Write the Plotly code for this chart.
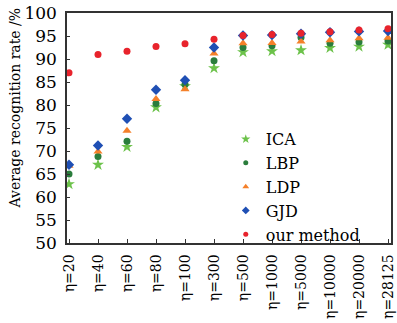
import plotly.graph_objects as go

categories = ["η=20", "η=40", "η=60", "η=80", "η=100", "η=300", "η=500",
              "η=1000", "η=5000", "η=10000", "η=20000", "η=28125"]

ica = [62.8, 67.0, 70.9, 79.5, 84.1, 88.0, 91.5, 91.7, 91.9, 92.4, 92.7, 93.1]
lbp = [65.0, 68.8, 72.1, 80.3, 84.5, 89.6, 92.5, 92.9, 94.7, 93.4, 93.7, 93.9]
ldp = [66.8, 69.9, 74.4, 81.3, 83.4, 91.2, 93.4, 93.5, 93.8, 94.1, 94.5, 94.6]
gjd = [67.0, 71.2, 77.0, 83.3, 85.4, 92.5, 95.1, 95.2, 95.5, 95.8, 96.0, 96.1]
ours = [87.0, 91.0, 91.7, 92.7, 93.3, 94.3, 95.1, 95.3, 95.6, 95.9, 96.3, 96.6]

series = [
    ("ICA", ica, "star", "#6cc24a", 9),
    ("LBP", lbp, "circle", "#2a7d3c", 7),
    ("LDP", ldp, "triangle-up", "#f5802a", 8),
    ("GJD", gjd, "diamond", "#1f4fb4", 8),
    ("our method", ours, "circle", "#e8232c", 7),
]

fig = go.Figure()
for name, vals, sym, col, sz in series:
    fig.add_trace(go.Scatter(
        x=categories, y=vals, mode="markers", name=name, showlegend=False,
        marker=dict(symbol=sym, color=col, size=sz, line=dict(width=0)),
    ))
# legend-only entries with smaller symbols (as in the reference legend)
for name, vals, sym, col, sz in series:
    fig.add_trace(go.Scatter(
        x=[None], y=[None], mode="markers", name=name, showlegend=True,
        marker=dict(symbol=sym, color=col, size=sz - 2, line=dict(width=0)),
    ))

font_family = "DejaVu Serif"
fig.update_layout(
    width=397, height=323,
    margin=dict(l=67, r=6, t=13, b=80),
    paper_bgcolor="white", plot_bgcolor="white",
    font=dict(family=font_family, color="black"),
    showlegend=True,
    legend=dict(x=0.49, y=0.245, xanchor="left", yanchor="middle",
                font=dict(size=16, family=font_family),
                bgcolor="rgba(0,0,0,0)", itemsizing="trace",
                tracegroupgap=0),
)
fig.update_xaxes(
    type="category", range=[-0.069, 11.103], automargin=False,
    showline=True, linecolor="#333", linewidth=1.5, mirror=True,
    ticks="inside", ticklen=4, tickcolor="#333",
    tickangle=-90, tickfont=dict(size=14, family=font_family),
    ticklabelstandoff=4,
    showgrid=False, zeroline=False,
)
fig.update_yaxes(
    range=[50, 100], dtick=5, automargin=False,
    showline=True, linecolor="#333", linewidth=1.5, mirror=True,
    ticks="inside", ticklen=3, tickcolor="#333",
    tickfont=dict(size=17, family=font_family),
    ticklabelstandoff=5,
    showgrid=False, zeroline=False,
)
fig.add_annotation(
    text="Average recognition rate /%", textangle=-90,
    xref="paper", yref="paper", x=-0.162, y=0.587,
    xanchor="center", yanchor="middle", showarrow=False,
    font=dict(size=14, family=font_family),
)
fig.write_html(
    "out.html",
    config={"displayModeBar": False},
    post_script="document.body.style.margin='0';document.body.style.padding='0';document.body.style.overflow='hidden';",
)
